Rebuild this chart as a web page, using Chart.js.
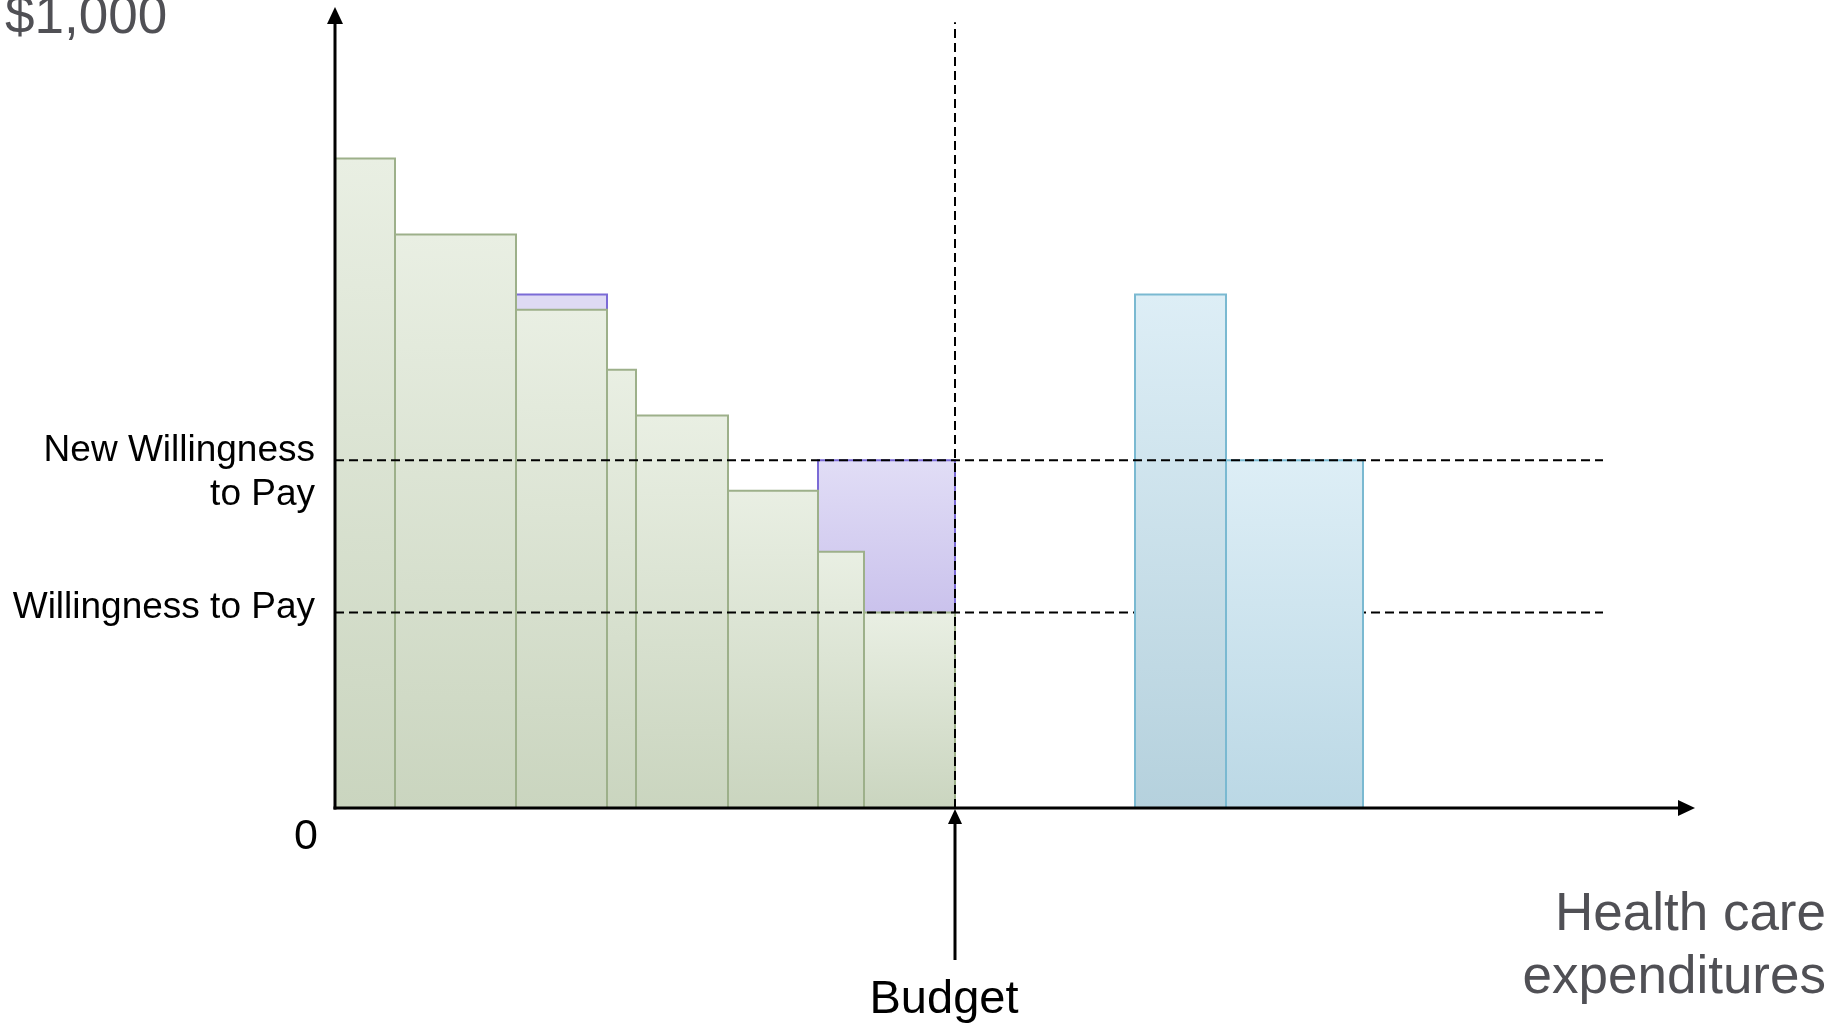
<!DOCTYPE html>
<html><head><meta charset="utf-8">
<script src="https://cdn.jsdelivr.net/npm/chart.js@4"></script>
<style>html,body{margin:0;padding:0;background:#fff;overflow:hidden;} #wrap{width:1844px;height:1026px;position:relative;}</style>
</head><body><div id="wrap"><canvas id="c"></canvas></div>
<script>
// ---- data ----
const programCosts   = [6.0, 12.1, 9.1, 2.9, 9.2, 9.0, 4.6, 9.1];
const programValues  = [81.1, 71.6, 62.2, 54.7, 49.0, 39.6, 32.0, 24.4];
const raisedProgram  = 2;
const raisedValue    = 64.1;
const newProgramStart  = 80.0;
const newProgramCosts  = [9.1, 13.7];
const newProgramValues = [64.1, 43.4];
const willingnessToPay    = 24.4;
const newWillingnessToPay = 43.4;
const displacedFromProgram = 6;
const thresholdLineEnd = 126.8;
const budgetLineTop    = 98.1;
const xMax = 136, yMax = 100;
const yTickLabels = ['0', 'Willingness to Pay', ['New Willingness', 'to Pay']];
const yAxisTitle  = '$1,000';
const xAxisTitle  = ['Health care', 'expenditures'];
const budgetLabel = 'Budget';

// ---- derived ----
const edges = [0];
programCosts.forEach(c => edges.push(+(edges[edges.length - 1] + c).toFixed(2)));
const budget = edges[edges.length - 1];
const newEdges = [newProgramStart];
newProgramCosts.forEach(c => newEdges.push(+(newEdges[newEdges.length - 1] + c).toFixed(2)));

function rect(x0, x1, y0, y1) {
  return [{x: x0, y: y0}, {x: x0, y: y1}, {x: x1, y: y1}, {x: x1, y: y0}];
}
function vGrad(top, bottom) {
  return function (ctx) {
    const chart = ctx.chart;
    if (!chart.chartArea || !ctx.dataset) return bottom;
    const ys = chart.scales.y;
    const d = ctx.dataset.data;
    const hi = Math.max(...d.map(p => p.y)), lo = Math.min(...d.map(p => p.y));
    const g = chart.ctx.createLinearGradient(0, ys.getPixelForValue(hi), 0, ys.getPixelForValue(lo));
    g.addColorStop(0, top);
    g.addColorStop(1, bottom);
    return g;
  };
}
const base = {type: 'line', pointRadius: 0, tension: 0, borderJoinStyle: 'miter', borderCapStyle: 'butt'};

const datasets = [];
// purple displaced area
datasets.push(Object.assign({}, base, {
  data: rect(edges[displacedFromProgram], budget, willingnessToPay, newWillingnessToPay),
  fill: {value: willingnessToPay}, backgroundColor: vGrad('#e1ddf6', '#cac2ec'),
  borderColor: '#7b6bd6', borderWidth: 2, order: 10
}));
// purple raised value strip
datasets.push(Object.assign({}, base, {
  data: rect(edges[raisedProgram], edges[raisedProgram + 1], 0, raisedValue),
  fill: 'origin', backgroundColor: '#dedaf4',
  borderColor: '#7b6bd6', borderWidth: 2, order: 10
}));
// green programs
programValues.forEach((v, i) => {
  datasets.push(Object.assign({}, base, {
    data: rect(edges[i], edges[i + 1], 0, v),
    fill: 'origin', backgroundColor: vGrad('#e9efe3', '#cad5bf'),
    borderColor: '#9db08a', borderWidth: 2, order: 9
  }));
});
// WTP threshold
datasets.push(Object.assign({}, base, {
  data: [{x: 0, y: willingnessToPay}, {x: thresholdLineEnd, y: willingnessToPay}],
  fill: false, borderColor: '#000', borderWidth: 2, borderDash: [9, 5], order: 8
}));
// new (blue) programs
const blueBottoms = ['#b5d1dd', '#bbd8e5'];
newProgramValues.forEach((v, i) => {
  datasets.push(Object.assign({}, base, {
    data: rect(newEdges[i], newEdges[i + 1], 0, v),
    fill: 'origin', backgroundColor: vGrad('#ddeef6', blueBottoms[i]),
    borderColor: '#7ab9d1', borderWidth: 2, order: 7
  }));
});
// new WTP threshold
datasets.push(Object.assign({}, base, {
  data: [{x: 0, y: newWillingnessToPay}, {x: thresholdLineEnd, y: newWillingnessToPay}],
  fill: false, borderColor: '#000', borderWidth: 2, borderDash: [9, 5], order: 6
}));
// budget vertical
datasets.push(Object.assign({}, base, {
  data: [{x: budget, y: 0}, {x: budget, y: budgetLineTop}],
  fill: false, borderColor: '#000', borderWidth: 2, borderDash: [9, 5], order: 5
}));

const FONT = '"Liberation Sans", Arial, sans-serif';
const overlay = {
  id: 'overlay',
  afterDatasetsDraw(chart) {
    const {ctx, scales: {x, y}} = chart;
    const ox = x.getPixelForValue(0), oy = y.getPixelForValue(0);
    const xr = x.getPixelForValue(xMax), yt = y.getPixelForValue(yMax);
    ctx.save();
    ctx.strokeStyle = '#000'; ctx.fillStyle = '#000'; ctx.lineWidth = 3;
    ctx.beginPath(); ctx.moveTo(ox, oy + 1.5); ctx.lineTo(ox, yt + 14); ctx.stroke();
    ctx.beginPath(); ctx.moveTo(ox, yt); ctx.lineTo(ox - 8, yt + 17); ctx.lineTo(ox + 8, yt + 17); ctx.closePath(); ctx.fill();
    ctx.beginPath(); ctx.moveTo(ox - 1.5, oy); ctx.lineTo(xr - 14, oy); ctx.stroke();
    ctx.beginPath(); ctx.moveTo(xr, oy); ctx.lineTo(xr - 17, oy - 8); ctx.lineTo(xr - 17, oy + 8); ctx.closePath(); ctx.fill();
    const bx = x.getPixelForValue(budget);
    ctx.lineWidth = 3;
    ctx.beginPath(); ctx.moveTo(bx, oy + 152); ctx.lineTo(bx, oy + 12); ctx.stroke();
    ctx.beginPath(); ctx.moveTo(bx, oy + 1); ctx.lineTo(bx - 7, oy + 16); ctx.lineTo(bx + 7, oy + 16); ctx.closePath(); ctx.fill();
    ctx.restore();
  },
  afterDraw(chart) {
    const {ctx, scales: {x, y}} = chart;
    const ox = x.getPixelForValue(0), oy = y.getPixelForValue(0);
    const xr = x.getPixelForValue(xMax), yt = y.getPixelForValue(yMax);
    const bx = x.getPixelForValue(budget);
    ctx.save();
    ctx.textBaseline = 'alphabetic';
    // y title
    ctx.fillStyle = '#505055'; ctx.font = '53px ' + FONT; ctx.textAlign = 'left';
    ctx.fillText(yAxisTitle, 5, yt + 26);
    // x title
    ctx.textAlign = 'right';
    ctx.fillText(xAxisTitle[0], xr + 131, oy + 122);
    ctx.fillText(xAxisTitle[1], xr + 131, oy + 185);
    // ticks
    ctx.fillStyle = '#000';
    ctx.font = '43px ' + FONT; ctx.textAlign = 'center';
    ctx.fillText(yTickLabels[0], ox - 29, oy + 41);
    ctx.font = '37px ' + FONT; ctx.textAlign = 'right';
    ctx.fillText(yTickLabels[1], ox - 20, y.getPixelForValue(willingnessToPay) + 5);
    const ny = y.getPixelForValue(newWillingnessToPay);
    ctx.fillText(yTickLabels[2][0], ox - 20, ny + 1);
    ctx.fillText(yTickLabels[2][1], ox - 20, ny + 45);
    // budget
    ctx.font = '47px ' + FONT; ctx.textAlign = 'center';
    ctx.fillText(budgetLabel, bx - 11, oy + 205);
    ctx.restore();
  }
};

new Chart(document.getElementById('c'), {
  type: 'line',
  data: {datasets},
  options: {
    responsive: true, maintainAspectRatio: false, animation: false, events: [],
    layout: {padding: {left: 335, top: 7, right: 149, bottom: 218}},
    scales: {
      x: {type: 'linear', min: 0, max: xMax, display: false},
      y: {type: 'linear', min: 0, max: yMax, display: false}
    },
    plugins: {legend: {display: false}, tooltip: {enabled: false}, title: {display: false}}
  },
  plugins: [overlay]
});
</script>
</body></html>
